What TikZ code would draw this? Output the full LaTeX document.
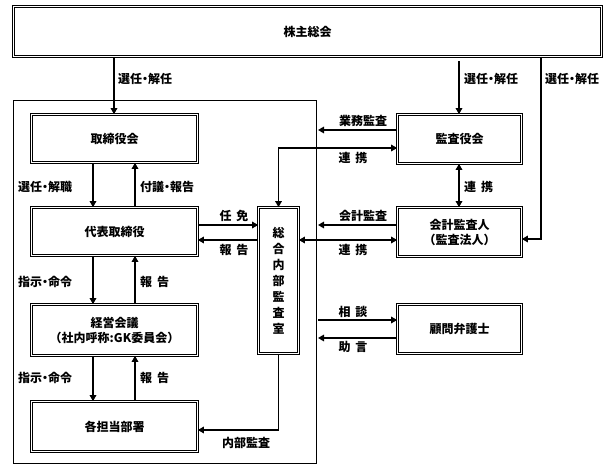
\documentclass[tikz,border=0pt]{standalone}
\usepackage{fontspec}
\setmainfont{Noto Sans CJK JP}
\usetikzlibrary{arrows.meta}
\newcommand\jf{\fontsize{12pt}{15pt}\selectfont\bfseries}
\newcommand\jv{\fontsize{12pt}{16pt}\selectfont\bfseries}
\newcommand\gp{\hspace{5pt}}
\newcommand\nd{\makebox[6pt][c]{・}}
\begin{document}
\begin{tikzpicture}[x=1pt,y=-1pt,
  box/.style={draw, double, double distance=1.6pt, line width=0.7pt, inner sep=0pt, align=center, font=\jf},
  frame/.style={draw, line width=0.8pt, inner sep=0pt},
  lab/.style={font=\jf, inner sep=0pt},
  tip/.tip={Triangle[length=6pt,width=6.5pt]},
  arr/.style={line width=1.8pt, -tip},
  darr/.style={line width=1.8pt, tip-tip}]
\useasboundingbox[fill=white] (0,0) rectangle (616,471);

% boxes
\node[box, minimum width=588pt, minimum height=50pt] (top) at (307.5,31.5) {株主総会};
\node[frame, minimum width=303pt, minimum height=363pt] (company) at (164.5,281.5) {};
\node[box, minimum width=166pt, minimum height=48pt] (toris) at (114.5,138.5) {取締役会};
\node[box, minimum width=166pt, minimum height=48pt] (daihyo) at (114.5,231.5) {代表取締役};
\node[box, minimum width=166pt, minimum height=51pt] (keiei) at (114.5,330) {経営会議\\（社内呼称:GK委員会）};
\node[box, minimum width=166pt, minimum height=50pt] (kaku) at (114.5,426.5) {各担当部署};
\node[box, minimum width=40pt, minimum height=146pt, font=\jv] (sogo) at (278.5,280.5) {総\\合\\内\\部\\監\\査\\室};
\node[box, minimum width=124pt, minimum height=49pt] (kansa) at (459.5,139) {監査役会};
\node[box, minimum width=124pt, minimum height=49pt] (kaikei) at (459.5,232) {会計監査人\\（監査法人）};
\node[box, minimum width=124pt, minimum height=49pt] (komon) at (459.5,329) {顧問弁護士};

% helper coordinates
\coordinate (xa) at (114,0);
\coordinate (xb) at (459,0);
\coordinate (xc) at (541,0);
\coordinate (xl) at (93,0);
\coordinate (xr) at (135,0);
\coordinate (b0) at (459,61);
\coordinate (y130) at (0,130);
\coordinate (y148) at (0,148);
\coordinate (y225) at (0,225);
\coordinate (y239) at (0,239);
\coordinate (y240) at (0,240);
\coordinate (y430) at (0,430);
\coordinate (y320) at (0,320);
\coordinate (y338) at (0,338);
\coordinate (e130) at (318,130);
\coordinate (e225) at (318,225);
\coordinate (e320) at (318,320);
\coordinate (e338) at (318,338);

% connectors from shareholders meeting
\draw[arr] (top.south -| xa) -- (toris.north -| xa);
\draw[arr] (b0) -- (kansa.north -| xb);
\draw[arr] (top.south -| xc) |- (kaikei.east |- y239);
\node[lab, anchor=west] (l1) at (118,79) {選任\nd 解任};
\node[lab, anchor=west] (l2) at (464,79) {選任\nd 解任};
\node[lab, anchor=west] (l3) at (545,79) {選任\nd 解任};

% left column
\draw[arr] (toris.south -| xl) -- (daihyo.north -| xl);
\draw[arr] (daihyo.north -| xr) -- (toris.south -| xr);
\node[lab, anchor=west] (l4) at (18,187) {選任\nd 解職};
\node[lab, anchor=west] (l5) at (140,187) {付議\nd 報告};

\draw[arr] (daihyo.south -| xl) -- (keiei.north -| xl);
\draw[arr] (keiei.north -| xr) -- (daihyo.south -| xr);
\node[lab, anchor=west] (l6) at (18,282) {指示\nd 命令};
\node[lab, anchor=west] (l7) at (140,282) {報\gp 告};

\draw[arr] (keiei.south -| xl) -- (kaku.north -| xl);
\draw[arr] (kaku.north -| xr) -- (keiei.south -| xr);
\node[lab, anchor=west] (l8) at (18,378) {指示\nd 命令};
\node[lab, anchor=west] (l9) at (140,378) {報\gp 告};

% internal audit office
\draw[arr] (daihyo.east |- y225) -- (sogo.west |- y225);
\draw[arr] (sogo.west |- y240) -- (daihyo.east |- y240);
\node[lab] (l10) at (234,216) {任\gp 免};
\node[lab] (l11) at (234,250) {報\gp 告};
\draw[arr] (sogo.south) |- (kaku.east |- y430);
\node[lab] (l12) at (246,443) {内部監査};

% auditors
\draw[arr] (kansa.west |- y130) -- (e130);
\node[lab] (l13) at (363,121) {業務監査};
\draw[darr] (sogo.north) |- (kansa.west |- y148);
\node[lab] (l14) at (353,158) {連\gp 携};
\draw[darr] (kansa.south -| xb) -- (kaikei.north -| xb);
\node[lab, anchor=west] (l15) at (464,187) {連\gp 携};
\draw[arr] (kaikei.west |- y225) -- (e225);
\node[lab] (l16) at (363,216) {会計監査};
\draw[darr] (sogo.east |- y240) -- (kaikei.west |- y240);
\node[lab] (l17) at (353,250) {連\gp 携};

% lawyer
\draw[arr] (e320) -- (komon.west |- y320);
\node[lab] (l18) at (353,312) {相\gp 談};
\draw[arr] (komon.west |- y338) -- (e338);
\node[lab] (l19) at (353,347) {助\gp 言};
\end{tikzpicture}
\end{document}
